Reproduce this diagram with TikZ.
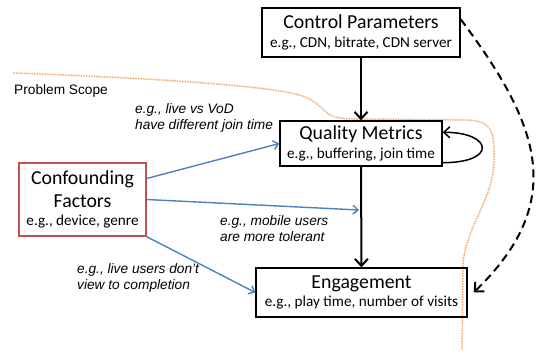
\documentclass[tikz,border=0pt]{standalone}
\usepackage{fontspec}
\setmainfont{Carlito}
\newfontfamily\arialfont{Liberation Sans}
\usetikzlibrary{arrows.meta}
\definecolor{boxred}{RGB}{192,80,77}
\definecolor{linkblue}{RGB}{79,129,189}
\definecolor{scopeorange}{RGB}{246,184,130}

\newcommand{\ttl}{\fontsize{19.8}{18}\selectfont}

\begin{document}
\begin{tikzpicture}[x=1pt, y=-1pt,
	box/.style={draw, line width=1.4pt, align=center, inner sep=0pt, font=\fontsize{15.2}{18.5}\selectfont},
	flow/.style={line width=2pt, -{Straight Barb[length=7pt,width=13pt]}},
	link/.style={linkblue, line width=1.4pt, -{Straight Barb[length=5pt,width=9pt]}},
	note/.style={font=\arialfont\itshape\fontsize{13.7}{16}\selectfont, align=left, anchor=north west, inner sep=0pt}]
	\useasboundingbox (0,0) rectangle (542,358);
	% problem scope
	\draw[scopeorange, line width=2.3pt, line cap=round, dash pattern=on 0pt off 2.6pt]
		(14,73) .. controls (150,78) and (280,86) .. (305,97)
		.. controls (330,108) and (320,119) .. (355,119) -- (465,120)
		.. controls (495,120) and (494,135) .. (494,160)
		.. controls (494,200) and (463,230) .. (463,268) -- (462,350);
	\node[anchor=base west, inner sep=0pt, font=\arialfont\fontsize{13.7}{16}\selectfont] (scope) at (14,95) {Problem Scope};

	\node[box, minimum width=198pt, minimum height=49pt] (ctrl) at (361,32.5) {{\ttl Control Parameters}\\e.g., CDN, bitrate, CDN server};
	\node[box, minimum width=162pt, minimum height=45pt] (qual) at (361,143.5) {{\ttl Quality Metrics}\\e.g., buffering, join time};
	\node[box, draw=boxred, minimum width=127pt, minimum height=73pt] (conf) at (82.5,199.5) {{\ttl Confounding}\\[4pt]{\ttl Factors}\\e.g., device, genre};
	\node[box, minimum width=211pt, minimum height=49pt] (eng) at (361.5,292.5) {{\ttl Engagement}\\e.g., play time, number of visits};

	\draw[flow] (ctrl) -- (qual);
	\draw[flow] (qual) -- (eng);
	\draw[line width=1.5pt, -{Straight Barb[length=6pt,width=11pt]}] ([yshift=4pt]qual.south east) .. controls +(55,0) and +(50,0) .. ([yshift=-12pt]qual.north east);
	\draw[line width=2pt, dash pattern=on 8pt off 5pt, -{Straight Barb[length=7pt,width=13pt]}] ([yshift=-12pt]ctrl.north east) .. controls (540,125) and (568,201) .. ([xshift=6pt]eng.east);

	% confounding links
	\coordinate (hit) at (359,210);
	\draw[link] ([yshift=21pt]conf.east) -- (qual.west);
	\draw[link] (conf.east) -- (hit);
	\draw[link] (conf.south east) -- (eng.west);

	\node[note] (live) at (135,103) {e.g., live vs VoD\\have different join time};
	\node[note] (mobile) at (220,215) {e.g., mobile users\\are more tolerant};
	\node[note] (view) at (77,263) {e.g., live users don’t\\view to completion};
\end{tikzpicture}
\end{document}
